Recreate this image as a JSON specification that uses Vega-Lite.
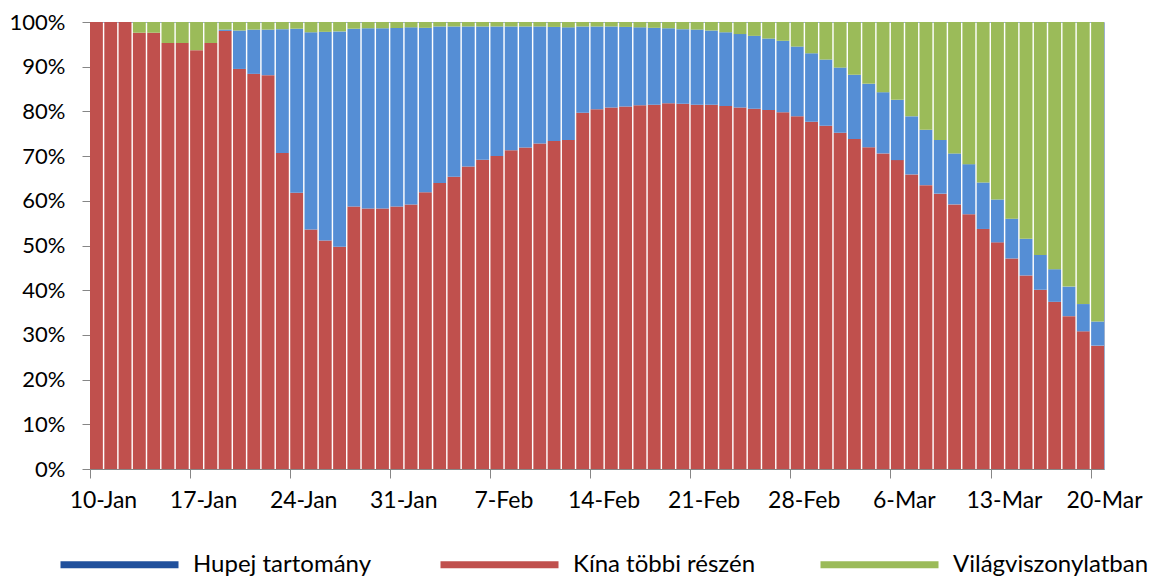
{
  "$schema": "https://vega.github.io/schema/vega-lite/v6.json",
  "width": 1014,
  "height": 447,
  "autosize": {"type": "none"},
  "padding": {"left": 90, "top": 22, "right": 48, "bottom": 108},
  "background": "#ffffff",
  "config": {
    "view": {"stroke": "#9CB0CE", "strokeWidth": 1},
    "font": "Lato",
    "axis": {"labelFont": "Lato", "labelColor": "#000000", "domainColor": "#868686", "tickColor": "#868686", "grid": false, "title": null}
  },
  "data": {
    "values": [
      {"d": "10-Jan", "kina": 100, "hupej": 0, "vilag": 0},
      {"d": "11-Jan", "kina": 100, "hupej": 0, "vilag": 0},
      {"d": "12-Jan", "kina": 100, "hupej": 0, "vilag": 0},
      {"d": "13-Jan", "kina": 97.6, "hupej": 0, "vilag": 2.4},
      {"d": "14-Jan", "kina": 97.6, "hupej": 0, "vilag": 2.4},
      {"d": "15-Jan", "kina": 95.3, "hupej": 0, "vilag": 4.7},
      {"d": "16-Jan", "kina": 95.3, "hupej": 0, "vilag": 4.7},
      {"d": "17-Jan", "kina": 93.7, "hupej": 0, "vilag": 6.3},
      {"d": "18-Jan", "kina": 95.3, "hupej": 0, "vilag": 4.7},
      {"d": "19-Jan", "kina": 98.0, "hupej": 0.3, "vilag": 1.7},
      {"d": "20-Jan", "kina": 89.5, "hupej": 8.6, "vilag": 1.9},
      {"d": "21-Jan", "kina": 88.4, "hupej": 9.9, "vilag": 1.7},
      {"d": "22-Jan", "kina": 88.1, "hupej": 10.2, "vilag": 1.7},
      {"d": "23-Jan", "kina": 70.7, "hupej": 27.7, "vilag": 1.6},
      {"d": "24-Jan", "kina": 61.8, "hupej": 36.7, "vilag": 1.5},
      {"d": "25-Jan", "kina": 53.6, "hupej": 44.1, "vilag": 2.3},
      {"d": "26-Jan", "kina": 51.1, "hupej": 46.7, "vilag": 2.2},
      {"d": "27-Jan", "kina": 49.7, "hupej": 48.2, "vilag": 2.1},
      {"d": "28-Jan", "kina": 58.7, "hupej": 39.8, "vilag": 1.5},
      {"d": "29-Jan", "kina": 58.3, "hupej": 40.3, "vilag": 1.4},
      {"d": "30-Jan", "kina": 58.3, "hupej": 40.3, "vilag": 1.4},
      {"d": "31-Jan", "kina": 58.7, "hupej": 39.95, "vilag": 1.35},
      {"d": "1-Feb", "kina": 59.2, "hupej": 39.6, "vilag": 1.2},
      {"d": "2-Feb", "kina": 61.9, "hupej": 36.8, "vilag": 1.3},
      {"d": "3-Feb", "kina": 64.0, "hupej": 35.0, "vilag": 1.0},
      {"d": "4-Feb", "kina": 65.4, "hupej": 33.6, "vilag": 1.0},
      {"d": "5-Feb", "kina": 67.7, "hupej": 31.3, "vilag": 1.0},
      {"d": "6-Feb", "kina": 69.2, "hupej": 29.8, "vilag": 1.0},
      {"d": "7-Feb", "kina": 70.0, "hupej": 29.0, "vilag": 1.0},
      {"d": "8-Feb", "kina": 71.3, "hupej": 27.7, "vilag": 1.0},
      {"d": "9-Feb", "kina": 71.9, "hupej": 27.1, "vilag": 1.0},
      {"d": "10-Feb", "kina": 72.8, "hupej": 26.2, "vilag": 1.0},
      {"d": "11-Feb", "kina": 73.4, "hupej": 25.5, "vilag": 1.1},
      {"d": "12-Feb", "kina": 73.6, "hupej": 25.2, "vilag": 1.2},
      {"d": "13-Feb", "kina": 79.7, "hupej": 19.3, "vilag": 1.0},
      {"d": "14-Feb", "kina": 80.5, "hupej": 18.5, "vilag": 1.0},
      {"d": "15-Feb", "kina": 80.9, "hupej": 18.1, "vilag": 1.0},
      {"d": "16-Feb", "kina": 81.1, "hupej": 17.8, "vilag": 1.1},
      {"d": "17-Feb", "kina": 81.4, "hupej": 17.4, "vilag": 1.2},
      {"d": "18-Feb", "kina": 81.5, "hupej": 17.2, "vilag": 1.3},
      {"d": "19-Feb", "kina": 81.8, "hupej": 16.8, "vilag": 1.4},
      {"d": "20-Feb", "kina": 81.7, "hupej": 16.7, "vilag": 1.6},
      {"d": "21-Feb", "kina": 81.5, "hupej": 16.8, "vilag": 1.7},
      {"d": "22-Feb", "kina": 81.5, "hupej": 16.6, "vilag": 1.9},
      {"d": "23-Feb", "kina": 81.2, "hupej": 16.5, "vilag": 2.3},
      {"d": "24-Feb", "kina": 80.9, "hupej": 16.4, "vilag": 2.7},
      {"d": "25-Feb", "kina": 80.6, "hupej": 16.3, "vilag": 3.1},
      {"d": "26-Feb", "kina": 80.3, "hupej": 16.0, "vilag": 3.7},
      {"d": "27-Feb", "kina": 79.8, "hupej": 16.0, "vilag": 4.2},
      {"d": "28-Feb", "kina": 78.9, "hupej": 15.6, "vilag": 5.5},
      {"d": "29-Feb", "kina": 77.7, "hupej": 15.3, "vilag": 7.0},
      {"d": "1-Mar", "kina": 76.8, "hupej": 14.8, "vilag": 8.4},
      {"d": "2-Mar", "kina": 75.2, "hupej": 14.6, "vilag": 10.2},
      {"d": "3-Mar", "kina": 73.8, "hupej": 14.4, "vilag": 11.8},
      {"d": "4-Mar", "kina": 72.0, "hupej": 14.2, "vilag": 13.8},
      {"d": "5-Mar", "kina": 70.6, "hupej": 13.7, "vilag": 15.7},
      {"d": "6-Mar", "kina": 69.1, "hupej": 13.5, "vilag": 17.4},
      {"d": "7-Mar", "kina": 65.9, "hupej": 13.0, "vilag": 21.1},
      {"d": "8-Mar", "kina": 63.5, "hupej": 12.4, "vilag": 24.1},
      {"d": "9-Mar", "kina": 61.6, "hupej": 12.0, "vilag": 26.4},
      {"d": "10-Mar", "kina": 59.2, "hupej": 11.4, "vilag": 29.4},
      {"d": "11-Mar", "kina": 57.0, "hupej": 11.2, "vilag": 31.8},
      {"d": "12-Mar", "kina": 53.7, "hupej": 10.4, "vilag": 35.9},
      {"d": "13-Mar", "kina": 50.7, "hupej": 9.6, "vilag": 39.7},
      {"d": "14-Mar", "kina": 47.1, "hupej": 8.9, "vilag": 44.0},
      {"d": "15-Mar", "kina": 43.3, "hupej": 8.2, "vilag": 48.5},
      {"d": "16-Mar", "kina": 40.1, "hupej": 7.8, "vilag": 52.1},
      {"d": "17-Mar", "kina": 37.4, "hupej": 7.3, "vilag": 55.3},
      {"d": "18-Mar", "kina": 34.2, "hupej": 6.6, "vilag": 59.2},
      {"d": "19-Mar", "kina": 30.8, "hupej": 6.1, "vilag": 63.1},
      {"d": "20-Mar", "kina": 27.6, "hupej": 5.4, "vilag": 67.0}
    ]
  },
  "transform": [
    {"fold": ["kina", "hupej", "vilag"], "as": ["k", "v"]},
    {"calculate": "{'hupej': 'Hupej tartomány', 'kina': 'Kína többi részén', 'vilag': 'Világviszonylatban'}[datum.k]", "as": "series"},
    {"calculate": "indexof(['kina', 'hupej', 'vilag'], datum.k)", "as": "ord"}
  ],
  "mark": {"type": "bar"},
  "encoding": {
    "x": {
      "field": "d",
      "type": "ordinal",
      "sort": null,
      "scale": {"paddingInner": 0.1, "paddingOuter": 0},
      "axis": {
        "values": ["10-Jan", "17-Jan", "24-Jan", "31-Jan", "7-Feb", "14-Feb", "21-Feb", "28-Feb", "6-Mar", "13-Mar", "20-Mar"],
        "bandPosition": 0,
        "labelOffset": 7,
        "labelAngle": 0,
        "labelAlign": "center",
        "labelFontSize": 23,
        "labelPadding": 11,
        "tickSize": 9,
        "labelOverlap": false
      }
    },
    "y": {
      "field": "v",
      "type": "quantitative",
      "stack": "normalize",
      "scale": {"domain": [0, 1], "nice": false},
      "axis": {
        "values": [0, 0.1, 0.2, 0.3, 0.4, 0.5, 0.6, 0.7, 0.8, 0.9, 1],
        "format": ".0%",
        "labelFontSize": 22,
        "tickSize": 8,
        "labelPadding": 17
      }
    },
    "order": {"field": "ord", "type": "quantitative"},
    "color": {
      "field": "series",
      "type": "nominal",
      "scale": {
        "domain": ["Hupej tartomány", "Kína többi részén", "Világviszonylatban"],
        "range": ["#558ED5", "#C0504D", "#9BBB59"]
      },
      "legend": {
        "title": null,
        "orient": "none",
        "direction": "horizontal",
        "legendX": -33,
        "legendY": 480,
        "padding": 0,
        "symbolType": "stroke",
        "symbolSize": 13924,
        "symbolStrokeWidth": 7,
        "labelFont": "Lato",
        "labelFontSize": 24,
        "labelColor": "#000000",
        "labelOffset": 11,
        "labelLimit": 400,
        "gridAlign": "all",
        "columnPadding": 37,
        "encode": {
          "symbols": {
            "update": {
              "stroke": {"signal": "datum.value === 'Hupej tartomány' ? '#20509C' : scale('color', datum.value)"},
              "fill": {"value": "transparent"},
              "strokeWidth": {"value": 7},
              "strokeCap": {"value": "butt"}
            }
          }
        }
      }
    }
  }
}
